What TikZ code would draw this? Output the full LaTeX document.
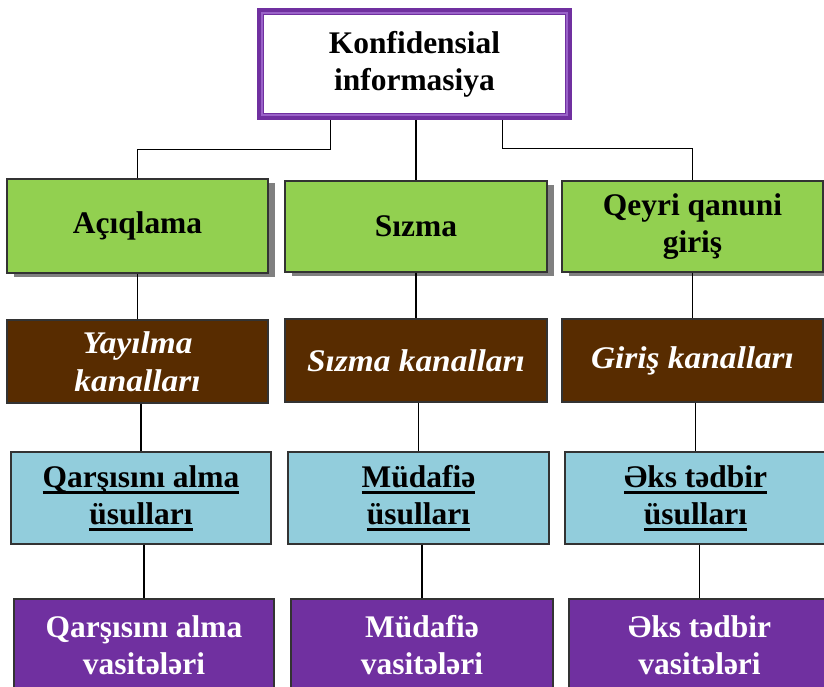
\documentclass[tikz,border=0pt]{standalone}
\usepackage{fontspec}
\setmainfont{Liberation Serif}
\newfontfamily\wideital[FakeStretch=1.06]{Liberation Serif}
\usetikzlibrary{shadows,calc}

\definecolor{boxgreen}{HTML}{92D050}
\definecolor{boxbrown}{HTML}{582C00}
\definecolor{boxblue}{HTML}{92CDDC}
\definecolor{boxpurple}{HTML}{7030A0}
\definecolor{framepurple}{HTML}{7030A0}
\definecolor{framethin}{HTML}{9A62C8}
\definecolor{edgegray}{HTML}{333333}

% underline with a fixed rule below the baseline
\newlength\ulwidth
\newcommand\ulword[1]{\settowidth\ulwidth{#1}\rlap{\rule[-4.8pt]{\ulwidth}{2pt}}#1}

\tikzset{
  lbl/.style={font=\fontsize{23.6pt}{27.8pt}\selectfont\bfseries, align=center, inner sep=0pt},
  bx/.style 2 args={lbl, draw=edgegray, line width=0.9pt,
    minimum width=#1*0.75pt, minimum height=#2*0.75pt},
  greenbox/.style={fill=boxgreen, text=black,
    drop shadow={shadow xshift=5pt, shadow yshift=-3pt, fill=black!50, opacity=1}},
  brownbox/.style={fill=boxbrown, text=white,
    font=\fontsize{23.6pt}{28.2pt}\selectfont\wideital\bfseries\itshape},
  bluebox/.style={fill=boxblue, text=black},
  purplebox/.style={fill=boxpurple, text=white},
  wire/.style={draw=black, line width=0.85pt}
}

\begin{document}
\begin{tikzpicture}[x=0.75pt, y=-0.75pt]
\useasboundingbox (0,0) rectangle (824,686);
\clip (0,0) rectangle (824,686);

% root node with a thick-thin purple frame
\node[lbl, fill=white, draw=framepurple, line width=6.5pt*0.75,
      minimum width=308*0.75pt, minimum height=105*0.75pt] (top) at (414.5,64)
  {Konfidensial\\informasiya};
\draw[framethin, line width=1.2pt]
  ([shift={(4.5,5)}]top.north west) rectangle ([shift={(-4.5,-5)}]top.south east);

% first level
\node[bx={261}{94}, greenbox] (g1) at (137.5,226) {Açıqlama};
\node[bx={262}{91}, greenbox] (g2) at (416,226.5) {Sızma};
\node[bx={261}{91}, greenbox] (g3) at (692.5,226.5) {Qeyri qanuni\\giriş};

% channels
\node[bx={261}{83}, brownbox] (c1) at (137.5,361.5) {Yayılma\\kanalları};
\node[bx={262}{83}, brownbox] (c2) at (416,360.5) {Sızma kanalları};
\node[bx={261}{83}, brownbox] (c3) at (692.5,360.5) {Giriş kanalları};

% methods
\node[bx={260}{92}, bluebox] (m1) at (141,498) {\ulword{Qarşısını alma}\\\ulword{üsulları}};
\node[bx={261}{92}, bluebox] (m2) at (418.5,498) {\ulword{Müdafiə}\\\ulword{üsulları}};
\node[bx={261}{92}, bluebox] (m3) at (695.5,498) {\ulword{Əks tədbir}\\\ulword{üsulları}};

% means
\node[bx={260}{92}, purplebox] (v1) at (144,645) {Qarşısını alma\\vasitələri};
\node[bx={262}{92}, purplebox] (v2) at (422,645) {Müdafiə\\vasitələri};
\node[bx={261}{92}, purplebox] (v3) at (699.5,645) {Əks tədbir\\vasitələri};

% links from the root
\coordinate (tl) at ($(top.south west)!0.232!(top.south east)$);
\coordinate (tr) at ($(top.south west)!0.780!(top.south east)$);
\draw[wire] (tl) -- ($(tl)+(0,30)$) -| (g1.north);
\draw[wire] (g2.north |- top.south) -- (g2.north);
\draw[wire] (tr) -- ($(tr)+(0,29)$) -| (g3.north);

% vertical links down each column
\foreach \a/\b in {g1/c1, c1/m1, m1/v1, g2/c2, c2/m2, m2/v2, g3/c3, c3/m3, m3/v3}
  \draw[wire] (\b.north |- \a.south) -- (\b.north);
\end{tikzpicture}
\end{document}
